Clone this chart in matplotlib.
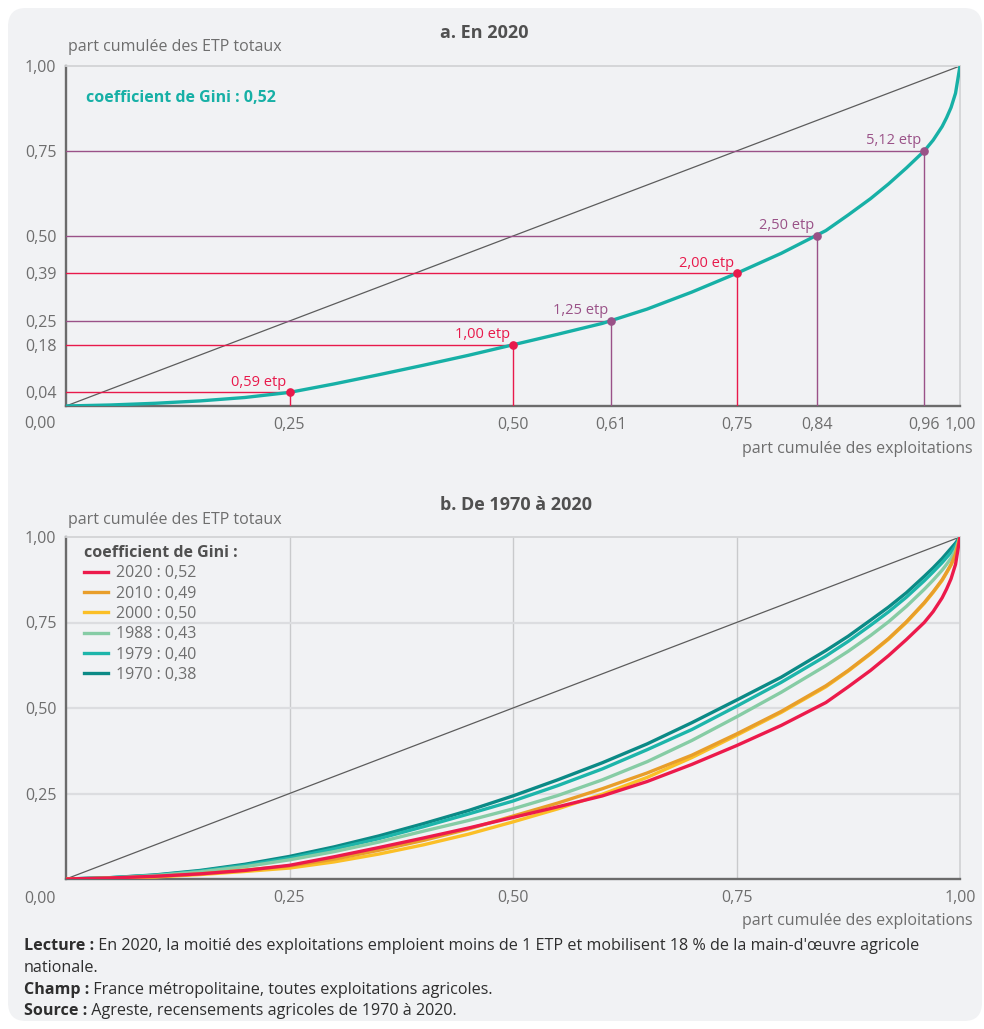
import matplotlib.pyplot as plt
from matplotlib.patches import FancyBboxPatch

plt.rcParams['font.family'] = ['Open Sans', 'DejaVu Sans']
plt.rcParams['font.size'] = 11.5

W, H = 984, 1029

def fx(x):
    return x / W

def fy(y):
    return 1 - y / H

# part cumulee des exploitations (abscisse commune aux courbes de Lorenz)
x_share = [0, .05, .1, .15, .2, .25, .3, .35, .4, .45, .5, .55, .6, .65, .7, .75, .8, .85,
           .875, .9, .92, .94, .96, .97, .98, .985, .99, .995, 1]

# part cumulee des ETP, par recensement
etp_1970 = [0, .004, .012, .025, .043, .066, .094, .126, .162, .2, .243, .29, .34, .395, .457,
            .523, .59, .668, .71, .757, .795, .837, .885, .91, .937, .952, .967, .982, 1]
etp_1979 = [0, .004, .011, .023, .04, .061, .088, .118, .153, .19, .228, .273, .322, .378, .437,
            .505, .575, .652, .695, .742, .781, .824, .872, .898, .925, .94, .955, .974, 1]
etp_1988 = [0, .003, .01, .021, .036, .056, .08, .108, .14, .171, .205, .244, .29, .343, .405,
            .474, .546, .624, .666, .712, .752, .797, .847, .874, .903, .92, .938, .962, 1]
etp_2000 = [0, .002, .006, .013, .022, .032, .05, .073, .1, .131, .167, .205, .248, .297, .355,
            .42, .487, .562, .608, .658, .701, .75, .806, .838, .873, .895, .918, .948, 1]
etp_2010 = [0, .002, .007, .015, .026, .038, .058, .084, .113, .146, .184, .222, .264, .31, .362,
            .424, .49, .565, .61, .66, .703, .752, .808, .84, .875, .897, .92, .95, 1]
etp_2020 = [0, .003, .008, .015, .025, .04, .065, .092, .12, .149, .18, .211, .243, .285, .335,
            .39, .449, .516, .562, .61, .653, .70, .75, .782, .822, .848, .878, .92, 1]

annees = ['2020', '2010', '2000', '1988', '1979', '1970']
gini = ['0,52', '0,49', '0,50', '0,43', '0,40', '0,38']
series = [etp_2020, etp_2010, etp_2000, etp_1988, etp_1979, etp_1970]
colors = ['#ec1a4b', '#e89e2a', '#fbbf26', '#86cca5', '#1db5aa', '#0b8a86']

# seuils de taille (en ETP) reperes sur la courbe 2020
seuils = ['0,59', '1,00', '1,25', '2,00', '2,50', '5,12']
part_expl = [0.25, 0.50, 0.61, 0.75, 0.84, 0.96]
part_etp = [0.04, 0.18, 0.25, 0.39, 0.50, 0.75]

red = '#e8194b'
purple = '#9a5288'
seuil_colors = [red, red, purple, red, purple, purple]

text_gray = '#6e6e6e'
title_gray = '#505050'

fig = plt.figure(figsize=(W / 100, H / 100), dpi=100)
fig.patch.set_facecolor('white')
bg = FancyBboxPatch((fx(8), fy(1021)), fx(974), 1013 / H,
                    boxstyle='round,pad=0,rounding_size=0.018',
                    transform=fig.transFigure, facecolor='#f1f2f4',
                    edgecolor='none', zorder=-5)
fig.add_artist(bg)


def style_axes(ax):
    ax.set_xlim(0, 1)
    ax.set_ylim(0, 1)
    ax.patch.set_visible(False)
    for s in ['left', 'bottom']:
        ax.spines[s].set_color('#6b6b6b')
        ax.spines[s].set_linewidth(1.7)
    for s in ['top', 'right']:
        ax.spines[s].set_color('#d3d4d6')
        ax.spines[s].set_linewidth(1.3)
    ax.tick_params(length=0, labelcolor=text_gray, labelsize=11.5)
    ax.tick_params(axis='y', pad=7)
    ax.tick_params(axis='x', pad=8)
    ax.plot([0, 1], [0, 1], color='#5c5c5c', lw=0.9, zorder=2)


def fmt(v):
    return f'{v:.2f}'.replace('.', ',')


# ---- a. En 2020
ax1 = fig.add_axes([fx(66), fy(406), fx(894), 340 / H])
style_axes(ax1)
for xp, yp, c in zip(part_expl, part_etp, seuil_colors):
    ax1.plot([0, xp], [yp, yp], color=c, lw=1.0, zorder=3)
    ax1.plot([xp, xp], [0, yp], color=c, lw=1.0, zorder=3)
ax1.plot(x_share, etp_2020, color='#17b0a6', lw=2.4, zorder=4,
         solid_joinstyle='round')
for s, xp, yp, c in zip(seuils, part_expl, part_etp, seuil_colors):
    ax1.plot(xp, yp, 'o', color=c, ms=5.2, zorder=5)
    ax1.annotate(s + ' etp', (xp, yp), xytext=(-2, 2), textcoords='offset points',
                 ha='right', va='bottom', color=c, fontsize=10.5)

ax1.set_yticks(part_etp + [1.0], [fmt(v) for v in part_etp + [1.0]])
ax1.set_xticks(part_expl + [1.0], [fmt(v) for v in part_expl + [1.0]])

fig.text(fx(440), fy(33), 'a. En 2020', weight='bold', size=13, color=title_gray, va='center')
fig.text(fx(68), fy(47), 'part cumulée des ETP totaux', color=text_gray, va='center')
fig.text(fx(56), fy(424), '0,00', color=text_gray, ha='right', va='center')
fig.text(fx(973), fy(449), 'part cumulée des exploitations', color=text_gray,
         ha='right', va='center')
fig.text(fx(86), fy(98), 'coefficient de Gini : 0,52', color='#17b0a6', weight='bold',
         va='center')

# ---- b. De 1970 a 2020
ax2 = fig.add_axes([fx(66), fy(879), fx(894), 342 / H])
style_axes(ax2)
for v in [0.25, 0.5, 0.75]:
    ax2.axvline(v, color='#c9cacc', lw=1.0, zorder=1)
    ax2.axhline(v, color='#dcdde0', lw=1.6, zorder=1)

handles = []
for an, g, ys, c in zip(annees[::-1], gini[::-1], series[::-1], colors[::-1]):
    ln, = ax2.plot(x_share, ys, color=c, lw=2.4, solid_joinstyle='round',
                   label=f'{an} : {g}', zorder=3)
    handles.append(ln)
handles = handles[::-1]

ticks_b = [0.25, 0.5, 0.75, 1.0]
ax2.set_yticks(ticks_b, [fmt(v) for v in ticks_b])
ax2.set_xticks(ticks_b, [fmt(v) for v in ticks_b])

leg = ax2.legend(handles=handles, title='coefficient de Gini :', loc='upper left',
                 bbox_to_anchor=(fx(84), fy(545)), bbox_transform=fig.transFigure,
                 frameon=False, borderpad=0, borderaxespad=0, handlelength=1.5,
                 handletextpad=0.5, labelspacing=0.27, alignment='left',
                 title_fontproperties={'weight': 'bold', 'size': 11.5})
leg.get_title().set_color(title_gray)
for t in leg.get_texts():
    t.set_color(text_gray)

fig.text(fx(440), fy(505), 'b. De 1970 à 2020', weight='bold', size=13, color=title_gray,
         va='center')
fig.text(fx(68), fy(520), 'part cumulée des ETP totaux', color=text_gray, va='center')
fig.text(fx(56), fy(899), '0,00', color=text_gray, ha='right', va='center')
fig.text(fx(973), fy(921), 'part cumulée des exploitations', color=text_gray,
         ha='right', va='center')

# ---- notes
note_size = 11.6
notes = [
    ('Lecture :', " En 2020, la moitié des exploitations emploient moins de 1 ETP et "
                  "mobilisent 18 % de la main-d'œuvre agricole", 946),
    ('', 'nationale.', 968),
    ('Champ :', ' France métropolitaine, toutes exploitations agricoles.', 990),
    ('Source :', ' Agreste, recensements agricoles de 1970 à 2020.', 1011),
]
for bold, rest, y in notes:
    if bold:
        b = fig.text(fx(24), fy(y), bold, weight='bold', size=note_size,
                     color='#2e2e2e', va='center')
        plt.annotate(rest, xy=(1, 0), xycoords=b, va='bottom', ha='left',
                     size=note_size, color='#2e2e2e', annotation_clip=False)
    else:
        fig.text(fx(24), fy(y), rest, size=note_size, color='#2e2e2e', va='center')

fig.savefig('out.png', dpi=100, facecolor=fig.get_facecolor())
